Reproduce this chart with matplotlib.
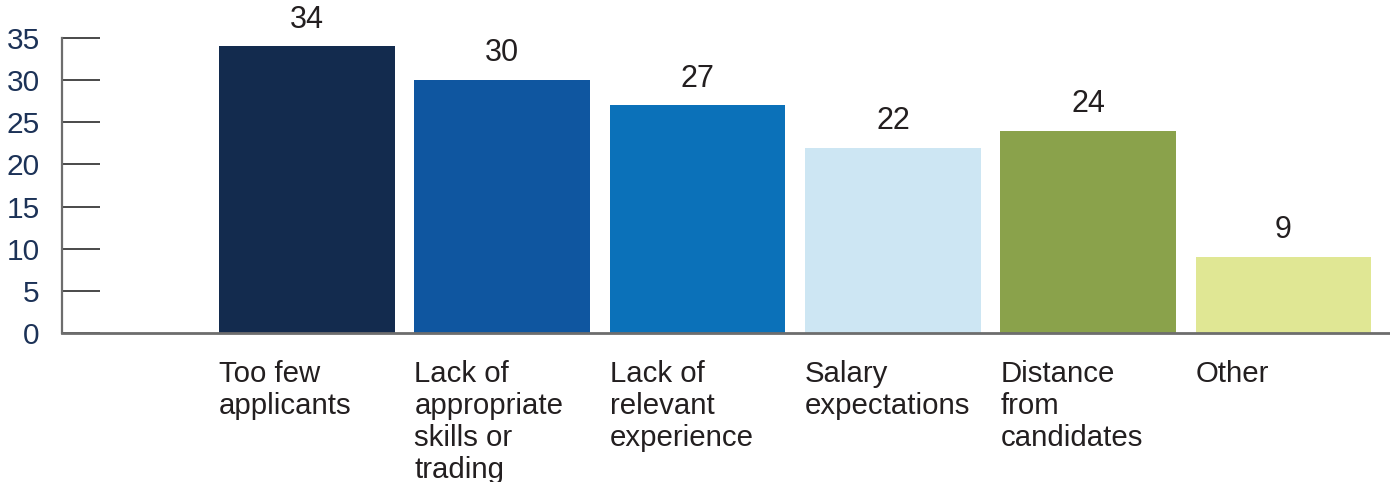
import matplotlib
matplotlib.use("Agg")
import matplotlib.pyplot as plt

categories = [
    "Too few\napplicants",
    "Lack of\nappropriate\nskills or\ntrading",
    "Lack of\nrelevant\nexperience",
    "Salary\nexpectations",
    "Distance\nfrom\ncandidates",
    "Other",
]
values = [34, 30, 27, 22, 24, 9]
colors = ["#132b4e", "#0f56a0", "#0b71b9", "#cde6f3", "#8aa24b", "#e0e794"]
yticks = [0, 5, 10, 15, 20, 25, 30, 35]

plt.rcParams["font.family"] = ["Liberation Sans", "DejaVu Sans"]

fig = plt.figure(figsize=(13.9, 4.82), dpi=100)
ax = fig.add_axes([62 / 1390, 1 - 333 / 482, 1 - 62 / 1390, (333 - 38) / 482])

x = list(range(len(values)))
bars = ax.bar(x, values, width=0.9, color=colors, zorder=2)

ax.set_xlim(-1.254, 5.545)
ax.set_ylim(0, 35)

for xi, v in zip(x, values):
    ax.annotate(str(v), (xi, v), xytext=(0, 8.5), textcoords="offset points",
                ha="center", va="bottom", fontsize=22, color="#231f20",
                annotation_clip=False)

for xi, lab in zip(x, categories):
    ax.annotate(lab, (xi - 0.45, 0), xytext=(0, -19.5), textcoords="offset points",
                ha="left", va="top", fontsize=21.2, color="#231f20",
                linespacing=1.18, annotation_clip=False)

ax.set_xticks([])
ax.set_yticks(yticks)
ax.set_yticklabels([str(t) for t in yticks], fontsize=21.5, color="#1c3257")
ax.tick_params(axis="y", direction="in", length=27.5, width=1.3,
               color="#3a3a3a", pad=16)

for side in ("top", "right"):
    ax.spines[side].set_visible(False)
ax.spines["left"].set_color("#6d6d6d")
ax.spines["left"].set_linewidth(1.6)
ax.spines["bottom"].set_color("#6d6d6d")
ax.spines["bottom"].set_linewidth(2)
ax.spines["bottom"].set_zorder(3)

fig.savefig("out.png", dpi=100)
